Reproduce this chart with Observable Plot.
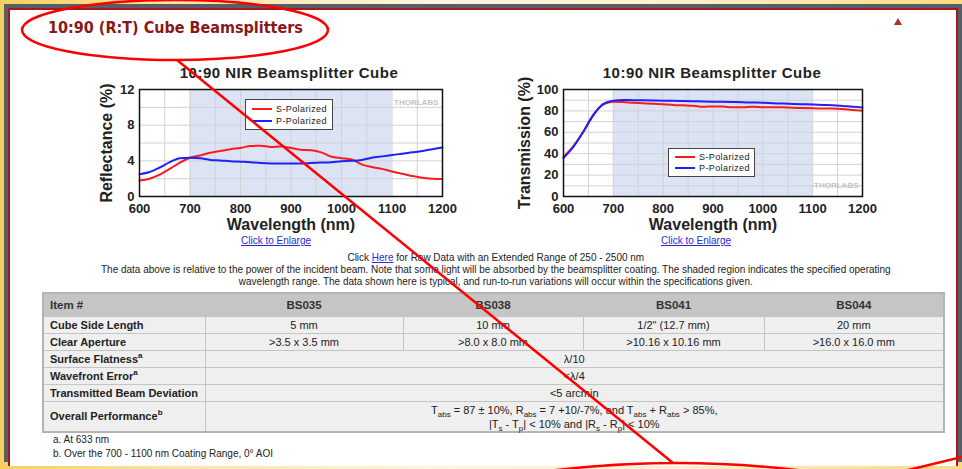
<!DOCTYPE html>
<html><head><meta charset="utf-8">
<script src="https://cdn.jsdelivr.net/npm/d3@7"></script>
<script src="https://cdn.jsdelivr.net/npm/@observablehq/plot@0.6"></script>
<style>
html,body{margin:0;padding:0;width:962px;height:469px;overflow:hidden;}
body{position:relative;background:linear-gradient(90deg,#f6d05e 0%,#fbe5a2 18%,#fdf4dd 45%,#fdf0cf 70%,#f9dc7c 100%);font-family:"Liberation Sans",Arial,sans-serif;color:#222;}
.abs{position:absolute;}
#frame{left:4px;top:4px;width:970px;height:458px;background:#565f67;}
#panel{left:8px;top:8px;width:946px;height:456px;background:#fff;border:2px solid #a3191c;border-bottom:none;}
#title{left:48px;top:18px;line-height:20px;font:bold 16px "DejaVu Sans Condensed","DejaVu Sans",sans-serif;color:#8a1818;white-space:nowrap;}
#tri{left:894px;top:18px;width:0;height:0;border-left:4.5px solid transparent;border-right:4.5px solid transparent;border-bottom:7px solid #a8302e;}
.ctitle{font:bold 15px "Liberation Sans",Arial,sans-serif;text-align:center;line-height:16px;color:#222;letter-spacing:0.5px;white-space:nowrap;}
.legend{background:#fff;border:1px solid #444;box-sizing:border-box;font:9px "Liberation Sans",Arial,sans-serif;letter-spacing:0.4px;color:#222;}
.lrow{position:absolute;left:6px;height:10px;line-height:10px;white-space:nowrap;}
.lrow span.sw{display:inline-block;width:20px;height:2px;vertical-align:middle;margin-right:4px;position:relative;top:-1px;}
.link{color:#2a2ad0;text-decoration:underline;font:10px "Liberation Sans",Arial,sans-serif;line-height:12px;text-align:center;white-space:nowrap;}
#para{left:496px;top:251px;width:0;}
#paraInner{position:absolute;left:0;top:0;transform-origin:0 0;text-align:center;font:11px "Liberation Sans",Arial,sans-serif;line-height:12px;color:#222;white-space:nowrap;}
#paraInner a{color:#2a2ad0;text-decoration:underline;}
table{position:absolute;left:42px;top:292px;width:901px;border-collapse:collapse;border:2px solid #b4b4b4;font:11px "Liberation Sans",Arial,sans-serif;color:#222;table-layout:fixed;}
td,th{border:1px solid #c4c4c4;padding:0 6px;background:#efefef;text-align:center;line-height:13px;}
th{background:#c5c5c5;font-weight:bold;font-size:11.5px;height:22px;color:#333;}
td.lab{text-align:left;font-weight:bold;}
th.lab{text-align:left;}
tr.r td{height:16px;}
sub{font-size:8px;line-height:0;}
sup{font-size:8px;line-height:0;}
#notes{left:53px;top:433px;font:10px "Liberation Sans",Arial,sans-serif;line-height:14px;color:#222;}
#ann{left:0;top:0;pointer-events:none;}
</style></head>
<body>
<div id="frame" class="abs"></div>
<div id="panel" class="abs"></div>
<div id="title" class="abs">10:90 (R:T) Cube Beamsplitters</div>
<div id="tri" class="abs"></div>
<div class="abs ctitle" style="left:169px;width:240px;top:65px;">10:90 NIR Beamsplitter Cube</div>
<div class="abs ctitle" style="left:592px;width:240px;top:65px;">10:90 NIR Beamsplitter Cube</div>
<div id="chartL" class="abs" style="left:92px;top:82px;"></div>
<div id="chartR" class="abs" style="left:510px;top:82px;"></div>
<div id="legL" class="abs legend" style="left:245px;top:99px;width:88px;height:31px;"></div>
<div id="legR" class="abs legend" style="left:668px;top:148px;width:87px;height:29px;"></div>
<div class="abs link" style="left:226px;width:100px;top:235px;">Click to Enlarge</div>
<div class="abs link" style="left:646px;width:100px;top:235px;">Click to Enlarge</div>
<div id="para" class="abs"><div id="paraInner">Click <a>Here</a> for Raw Data with an Extended Range of 250 - 2500 nm<br>The data above is relative to the power of the incident beam. Note that some light will be absorbed by the beamsplitter coating. The shaded region indicates the specified operating<br>wavelength range. The data shown here is typical, and run-to-run variations will occur within the specifications given.</div></div>
<table id="spec"></table>
<div id="notes" class="abs"></div>
<svg id="ann" class="abs" width="962" height="469">
  <ellipse cx="175" cy="30" rx="153" ry="30" fill="none" stroke="#ff0000" stroke-width="2.5"/>
  <line x1="177" y1="60" x2="673" y2="463" stroke="#ff0000" stroke-width="2.5"/>
  <path d="M548 471 Q 677 455 805 471" fill="none" stroke="#ff0000" stroke-width="2.5"/>
  <line x1="904" y1="471" x2="962" y2="457" stroke="#ff0000" stroke-width="2.5"/>
</svg>
<script>
// ---------- chart data ----------
const wavelengths = [600,620,640,660,680,700,720,740,760,780,800,820,840,860,880,900,920,940,960,980,1000,1020,1040,1060,1080,1100,1120,1140,1160,1180,1200];
const reflectanceS = [1.8,2.0,2.45,3.1,3.8,4.35,4.6,4.9,5.1,5.3,5.45,5.65,5.7,5.55,5.6,5.45,5.25,5.2,4.95,4.45,4.3,4.15,3.6,3.3,3.1,2.8,2.55,2.3,2.1,2.0,1.95];
const reflectanceP = [2.5,2.75,3.25,3.85,4.3,4.35,4.3,4.1,4.05,3.95,3.9,3.85,3.75,3.7,3.7,3.7,3.7,3.75,3.8,3.85,3.95,4.0,4.1,4.35,4.5,4.65,4.8,4.95,5.1,5.3,5.5];
const transmissionS = [37,47,61,76.5,86,88.5,88.3,87.6,87.2,86.6,86.2,85.6,85.2,84.8,83.8,84.2,84.0,83.3,83.4,83.9,83.5,83.4,83.3,83.0,82.6,82.4,82.3,82.2,81.8,80.9,80.2];
const transmissionP = [36,46.5,60.5,76,86.5,89.6,90.3,90.0,89.9,89.7,89.6,89.4,89.3,89.1,88.8,88.6,88.5,88.3,88.0,87.8,87.6,87.2,86.8,86.5,86.2,86.0,85.6,85.3,84.6,83.8,83.2];
const operatingRange = [[700, 1100]];
const seriesNames = ["S-Polarized", "P-Polarized"];
const seriesColors = ["#ff1a1a", "#1f1fff"];
const xTicks = [600,700,800,900,1000,1100,1200];
const xGrid = [650,700,750,800,850,900,950,1000,1050,1100,1150];
const reflTicks = [0,4,8,12];
const reflGrid = [2,4,6,8,10];
const transTicks = [0,20,40,60,80,100];
const transGrid = [10,20,30,40,50,60,70,80,90];

// ---------- table data ----------
const itemNumbers = ["BS035","BS038","BS041","BS044"];
const cubeSideLengths = ["5 mm","10 mm","1/2\" (12.7 mm)","20 mm"];
const clearApertures = [">3.5 x 3.5 mm",">8.0 x 8.0 mm",">10.16 x 10.16 mm",">16.0 x 16.0 mm"];
const sharedSpecs = [
  ["Surface Flatness<sup>a</sup>", "&lambda;/10"],
  ["Wavefront Error<sup>a</sup>", "&lt;&lambda;/4"],
  ["Transmitted Beam Deviation", "&lt;5 arcmin"]
];
const overallPerformance = "T<sub>abs</sub> = 87 &plusmn; 10%, R<sub>abs</sub> = 7 +10/-7%, and T<sub>abs</sub> + R<sub>abs</sub> &gt; 85%,<br>|T<sub>s</sub> - T<sub>p</sub>| &lt; 10% and |R<sub>s</sub> - R<sub>p</sub>| &lt; 10%";
const footnotes = ["a. At 633 nm", "b. Over the 700 - 1100 nm Coating Range, 0&deg; AOI"];

function rows(vals) { return wavelengths.map((w, i) => ({wl: w, v: vals[i]})); }

function chart({s, p, yDomain, yTicks, yGrid, yLabel, mLeft, mRight, labDx, wmAnchor, wmDy, wmText}) {
  const font = "Liberation Sans, Arial, sans-serif";
  return Plot.plot({
    width: 362, height: 155,
    marginLeft: mLeft, marginRight: mRight, marginTop: 7, marginBottom: 41,
    style: {background: "transparent", fontFamily: font, fontSize: "13px", fontWeight: "bold", color: "#222", overflow: "visible"},
    x: {domain: [600, 1200], ticks: xTicks, tickFormat: d => String(d), tickSize: 0, tickPadding: 7, label: null},
    y: {domain: yDomain, ticks: yTicks, tickFormat: d => String(d), tickSize: 0, tickPadding: 5, label: null},
    marks: [
      Plot.rect(operatingRange, {x1: d => d[0], x2: d => d[1], fill: "#dbe3f5"}),
      Plot.ruleX(xGrid, {stroke: "#d2d2d2", strokeWidth: 1}),
      Plot.ruleY(yGrid, {stroke: "#d2d2d2", strokeWidth: 1}),
      Plot.text([wmText], {text: d => d, frameAnchor: wmAnchor, dx: -4, dy: wmDy, textAnchor: "end", lineAnchor: "middle", fill: "#c4c4c4", fontSize: 8, fontWeight: "bold"}),
      Plot.line(rows(s), {x: "wl", y: "v", stroke: seriesColors[0], strokeWidth: 2, curve: "monotone-x"}),
      Plot.line(rows(p), {x: "wl", y: "v", stroke: seriesColors[1], strokeWidth: 2, curve: "monotone-x"}),
      Plot.frame({stroke: "#111", strokeWidth: 1.5}),
      Plot.text(["Wavelength (nm)"], {text: d => d, frameAnchor: "bottom", dy: 28, lineAnchor: "middle", textAnchor: "middle", fontSize: 16, fontWeight: "bold", fill: "#222"}),
      Plot.text([yLabel], {text: d => d, frameAnchor: "left", dx: labDx, rotate: -90, textAnchor: "middle", lineAnchor: "middle", fontSize: 16, fontWeight: "bold", fill: "#222"})
    ]
  });
}

document.getElementById("chartL").append(chart({
  s: reflectanceS, p: reflectanceP, yDomain: [0, 12], yTicks: reflTicks, yGrid: reflGrid,
  yLabel: "Reflectance (%)", mLeft: 47, mRight: 12, labDx: -33, wmAnchor: "top-right", wmDy: 13, wmText: "THORLABS"
}));
document.getElementById("chartR").append(chart({
  s: transmissionS, p: transmissionP, yDomain: [0, 100], yTicks: transTicks, yGrid: transGrid,
  yLabel: "Transmission (%)", mLeft: 53, mRight: 10, labDx: -39, wmAnchor: "bottom-right", wmDy: -11, wmText: "-THORLABS"
}));

function legend(id, tops) {
  const el = document.getElementById(id);
  el.innerHTML = seriesNames.map((n, i) =>
    `<div class="lrow" style="top:${tops[i]}px"><span class="sw" style="background:${seriesColors[i]}"></span>${n}</div>`).join("");
}
legend("legL", [4, 16]);
legend("legR", [3, 14]);

// paragraph: fit the condensed text block to the reference width
const pi = document.getElementById("paraInner");
const w = pi.offsetWidth;
const sc = 790 / w;
pi.style.transform = `translate(${-395}px,0) scaleX(${sc})`;

// table
const t = document.getElementById("spec");
let html = `<colgroup><col style="width:162px"><col style="width:198px"><col style="width:180px"><col style="width:181px"><col style="width:180px"></colgroup>`;
html += `<tr><th class="lab">Item #</th>${itemNumbers.map(d => `<th>${d}</th>`).join("")}</tr>`;
html += `<tr class="r"><td class="lab">Cube Side Length</td>${cubeSideLengths.map(d => `<td>${d}</td>`).join("")}</tr>`;
html += `<tr class="r"><td class="lab">Clear Aperture</td>${clearApertures.map(d => `<td>${d}</td>`).join("")}</tr>`;
sharedSpecs.forEach(([k, v]) => { html += `<tr class="r"><td class="lab">${k}</td><td colspan="4">${v}</td></tr>`; });
html += `<tr><td class="lab" style="height:29px">Overall Performance<sup>b</sup></td><td colspan="4" style="line-height:14px">${overallPerformance}</td></tr>`;
t.innerHTML = html;
document.getElementById("notes").innerHTML = footnotes.join("<br>");
</script>
</body></html>
